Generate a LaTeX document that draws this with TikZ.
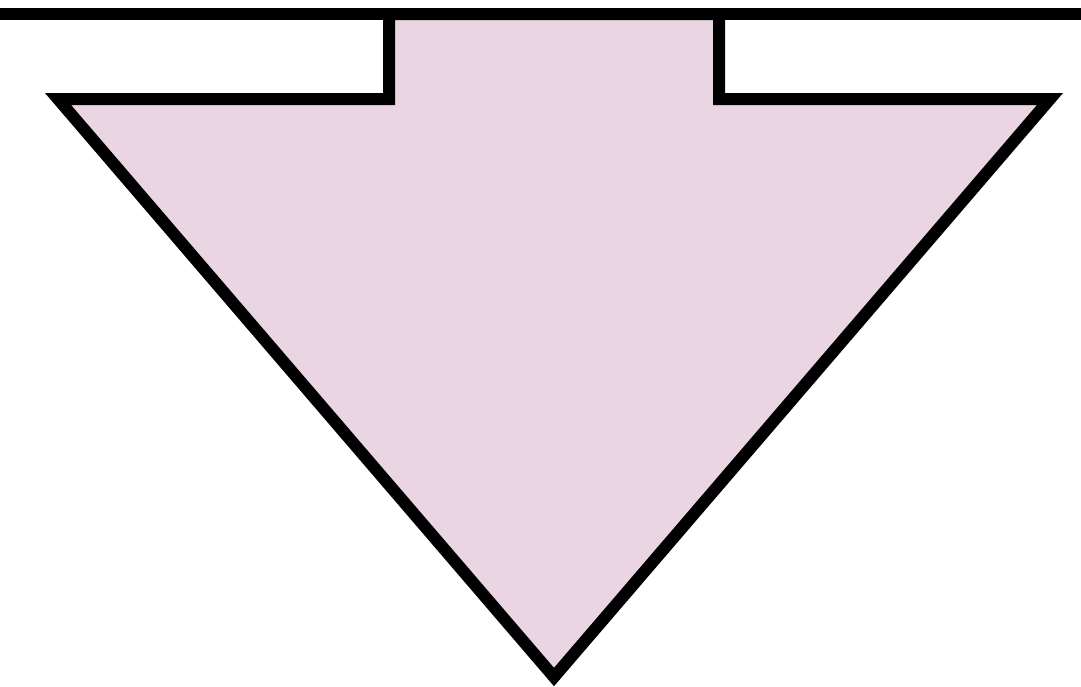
\documentclass[tikz,border=0pt]{standalone}
\usepackage{xcolor}
\usepackage{tikz}

\definecolor{arrowfill}{RGB}{234,214,226}

\begin{document}
\begin{tikzpicture}[x=1pt,y=-1pt]
\path[use as bounding box] (0,0) rectangle (1081,686);
\path[fill=white,draw=none] (0,0) rectangle (1081,686);
% arrow pointing down from the bar
\path[fill=arrowfill,draw=black,line width=12pt,line join=miter] (389,14) -- (719,14) -- (719,99) -- (1050,99) -- (554,677) -- (58,99) -- (389,99) -- cycle;
\draw[draw=black,line width=12pt] (0,14) -- (1081,14);
\end{tikzpicture}
\end{document}
